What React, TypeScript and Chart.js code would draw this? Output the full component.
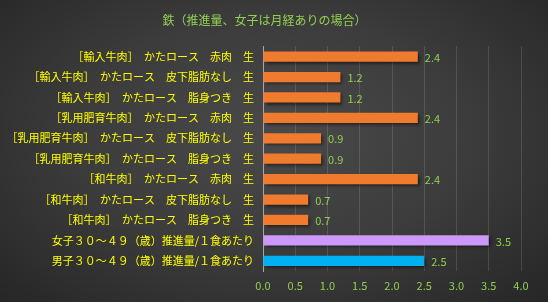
import React, { useEffect, useRef } from "react";
import { Chart, registerables } from "chart.js";

Chart.register(...registerables);

const TITLE = "鉄（推進量、女子は月経ありの場合）";
const CATEGORIES = [
  "［輸入牛肉］　かたロース　赤肉　生",
  "［輸入牛肉］　かたロース　皮下脂肪なし　生",
  "［輸入牛肉］　かたロース　脂身つき　生",
  "［乳用肥育牛肉］　かたロース　赤肉　生",
  "［乳用肥育牛肉］　かたロース　皮下脂肪なし　生",
  "［乳用肥育牛肉］　かたロース　脂身つき　生",
  "［和牛肉］　かたロース　赤肉　生",
  "［和牛肉］　かたロース　皮下脂肪なし　生",
  "［和牛肉］　かたロース　脂身つき　生",
  "女子３０～４９（歳）推進量/１食あたり",
  "男子３０～４９（歳）推進量/１食あたり",
];
const VALUES = [2.4, 1.2, 1.2, 2.4, 0.9, 0.9, 2.4, 0.7, 0.7, 3.5, 2.5];
const BAR_COLORS = [
  "#f07b2e", "#f07b2e", "#f07b2e", "#f07b2e", "#f07b2e", "#f07b2e",
  "#f07b2e", "#f07b2e", "#f07b2e", "#cc99f8", "#00b0f0",
];
const X_MIN = 0;
const X_MAX = 4;
const X_STEP = 0.5;

const FONT = "'Noto Sans CJK JP', 'Noto Sans', sans-serif";
const GREEN = "#92d050";
const YELLOW = "#ffff00";

const shadowPlugin = {
  id: "barShadow",
  beforeDatasetsDraw(chart: any) {
    const ctx = chart.ctx;
    ctx.save();
    ctx.shadowColor = "rgba(0,0,0,0.55)";
    ctx.shadowOffsetX = 2;
    ctx.shadowOffsetY = 2;
    ctx.shadowBlur = 3;
  },
  afterDatasetsDraw(chart: any) {
    chart.ctx.restore();
  },
};

const labelPlugin = {
  id: "valueLabels",
  afterDraw(chart: any) {
    const ctx = chart.ctx;
    const meta = chart.getDatasetMeta(0);
    ctx.save();
    ctx.fillStyle = GREEN;
    ctx.font = `11px ${FONT}`;
    ctx.textAlign = "left";
    ctx.textBaseline = "middle";
    meta.data.forEach((bar: any, i: number) => {
      ctx.fillText(String(VALUES[i]), bar.x + 7, bar.y + 1);
    });
    ctx.restore();
  },
};

export default function App() {
  const ref = useRef<HTMLCanvasElement>(null);
  useEffect(() => {
    document.body.style.margin = "0";
    const chart = new Chart(ref.current!, {
      type: "bar",
      data: {
        labels: CATEGORIES,
        datasets: [
          {
            data: VALUES,
            backgroundColor: BAR_COLORS,
            barPercentage: 0.5,
            categoryPercentage: 1,
          },
        ],
      },
      options: {
        indexAxis: "y",
        animation: false,
        responsive: false,
        maintainAspectRatio: false,
        layout: { padding: { left: 8, right: 27, top: 0, bottom: 0 } },
        plugins: {
          legend: { display: false },
          tooltip: { enabled: false },
          title: {
            display: true,
            text: TITLE,
            color: GREEN,
            font: { family: FONT, size: 12, weight: "normal" },
            padding: { top: 13, bottom: 19 },
          },
        },
        scales: {
          x: {
            min: X_MIN,
            max: X_MAX,
            ticks: {
              stepSize: X_STEP,
              color: GREEN,
              font: { family: FONT, size: 11 },
              padding: 8,
              callback: (v: any) => Number(v).toFixed(1),
            },
            grid: {
              color: "rgba(255,255,255,0.13)",
              drawTicks: false,
            },
            border: { display: false },
            afterFit: (s: any) => {
              s.height = 31;
            },
          },
          y: {
            ticks: {
              color: YELLOW,
              font: { family: FONT, size: 11 },
              padding: 9,
            },
            grid: { display: false, drawTicks: false },
            border: { display: true, color: "#a6a6a6", width: 1 },
            afterFit: (s: any) => {
              s.width = 255;
            },
          },
        },
      },
      plugins: [shadowPlugin, labelPlugin],
    });
    return () => chart.destroy();
  }, []);
  return (
    <div
      style={{
        position: "fixed",
        left: 0,
        top: 0,
        width: 548,
        height: 302,
        background:
          "radial-gradient(ellipse at 50% 45%, #4a4a4a 0%, #3c3c3c 50%, #262626 100%)",
      }}
    >
      <canvas ref={ref} width={548} height={302} style={{ display: "block" }} />
    </div>
  );
}
